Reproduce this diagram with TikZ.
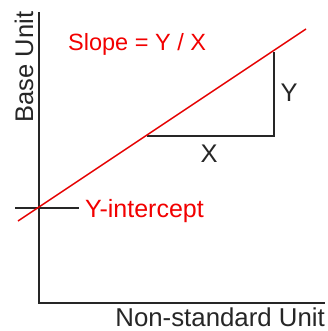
\documentclass[tikz,border=0pt]{standalone}
\usepackage{fontspec}
\setmainfont{Liberation Sans}
\begin{document}
\begin{tikzpicture}[x=1pt,y=-1pt,
  ax/.style={draw=black!85, line width=2pt},
  redline/.style={draw=red!90!black, line width=1.5pt},
  lab/.style={font=\fontsize{25.5}{30}\selectfont, text=black!85, inner sep=0pt},
  redlab/.style={font=\fontsize{25}{30}\selectfont, text=red!95!black, inner sep=0pt}]
\useasboundingbox[fill=white] (0,0) rectangle (327,331);
\coordinate (ytop) at (39,12);
\coordinate (origin) at (39,303);
\coordinate (xend) at (325,303);
\coordinate (tickL) at (15,208);
\coordinate (tickR) at (79,208);
\coordinate (rs) at (18,221);
\coordinate (re) at (306,29);
\coordinate (tA) at (147,136);
\coordinate (tB) at (274,136);
\coordinate (tC) at (274,52);
\draw[ax] (ytop) -- (origin) -- (xend);
\draw[ax] (tickL) -- (tickR);
\draw[ax] (tA) -- (tB) -- (tC);
\draw[redline] (rs) -- (re);
\node[redlab, font=\fontsize{23.5}{28}\selectfont, anchor=base west] (slope) at (68,51) {Slope = Y / X};
\node[redlab, anchor=base west] (yint) at (85,217) {Y-intercept};
\node[lab, anchor=base] (ylab) at (289,102) {Y};
\node[lab, anchor=base] (xlab) at (209,162) {X};
\node[lab, rotate=90, anchor=base] (base) at (33,67) {Base Unit};
\node[lab, font=\fontsize{25.8}{30}\selectfont, anchor=base east, text depth=0pt] (ns) at (325,326.5) {Non-standard Unit};
\end{tikzpicture}
\end{document}
